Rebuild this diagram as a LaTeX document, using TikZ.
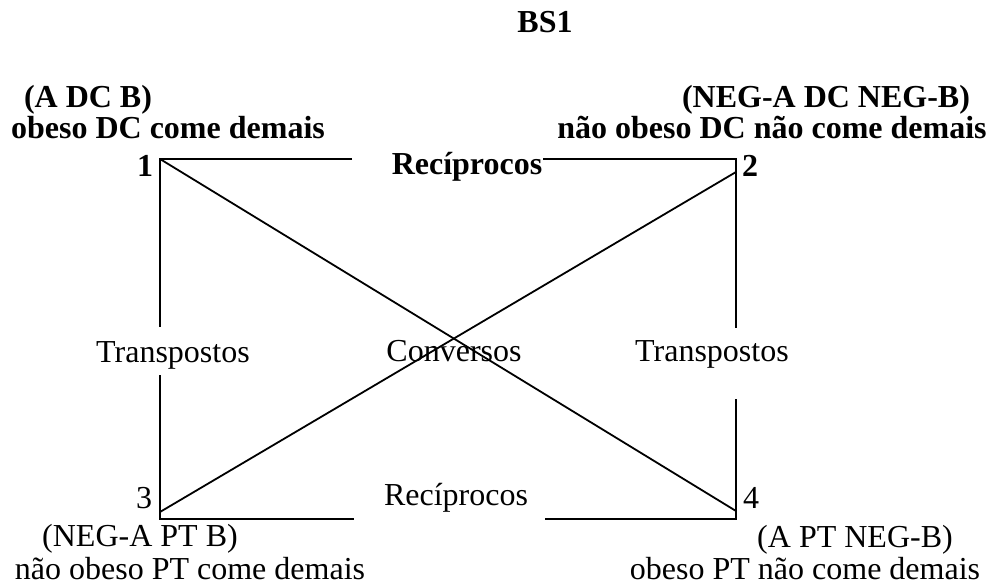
\documentclass[tikz,border=0pt]{standalone}
\usepackage{fontspec}
\setmainfont{Liberation Serif}
\begin{document}
\begin{tikzpicture}[x=1pt,y=-1pt,
  lbl/.style={inner sep=0pt, anchor=base, font=\fontsize{32}{38}\selectfont},
  blbl/.style={inner sep=0pt, anchor=base, font=\fontsize{32}{38}\selectfont\bfseries},
  edge/.style={line width=1.8pt, line join=miter, line cap=butt}]
\path[use as bounding box, fill=white] (0,0) rectangle (990,585);

% corners and segment ends
\coordinate (c1) at (160,159);
\coordinate (c2) at (736,159);
\coordinate (c3) at (160,519);
\coordinate (c4) at (736,519);
\coordinate (t1) at (352,159);
\coordinate (t2) at (543,159);
\coordinate (b1) at (354,519);
\coordinate (b2) at (545,519);
\coordinate (l1) at (160,327);
\coordinate (l2) at (160,375);
\coordinate (r1) at (736,328);
\coordinate (r2) at (736,399);
\coordinate (d4) at (736,511);
\coordinate (d3) at (160,512);
\coordinate (d2) at (736,172);

% labels
\node[blbl] (title) at (545,33) {BS1};
\node[blbl] (p1a) at (88,108) {(A DC B)};
\node[blbl] (p1b) at (168,139) {obeso DC come demais};
\node[blbl] (n1) at (145,177) {1};
\node[blbl] (rtop) at (467,175) {Recíprocos};
\node[blbl] (p2a) at (826,108) {(NEG-A DC NEG-B)};
\node[blbl] (p2b) at (772,139) {não obeso DC não come demais};
\node[blbl] (n2) at (750,177) {2};
\node[lbl] (tl) at (173,362) {Transpostos};
\node[lbl] (conv) at (454,361) {Conversos};
\node[lbl] (tr) at (712,361) {Transpostos};
\node[lbl] (n3) at (144,508) {3};
\node[lbl] (rbot) at (456,505) {Recíprocos};
\node[lbl] (n4) at (751,508) {4};
\node[lbl] (p3a) at (140,546) {(NEG-A PT B)};
\node[lbl] (p3b) at (190,579) {não obeso PT come demais};
\node[lbl] (p4a) at (855,547) {(A PT NEG-B)};
\node[lbl] (p4b) at (805,579) {obeso PT não come demais};

% square sides
\draw[edge] (t1) -- (c1) -- (l1);
\draw[edge] (t2) -- (c2) -- (r1);
\draw[edge] (l2) -- (c3) -- (b1);
\draw[edge] (r2) -- (c4) -- (b2);
% diagonals
\draw[edge] (c1) -- (d4);
\draw[edge] (d3) -- (d2);
\end{tikzpicture}
\end{document}
